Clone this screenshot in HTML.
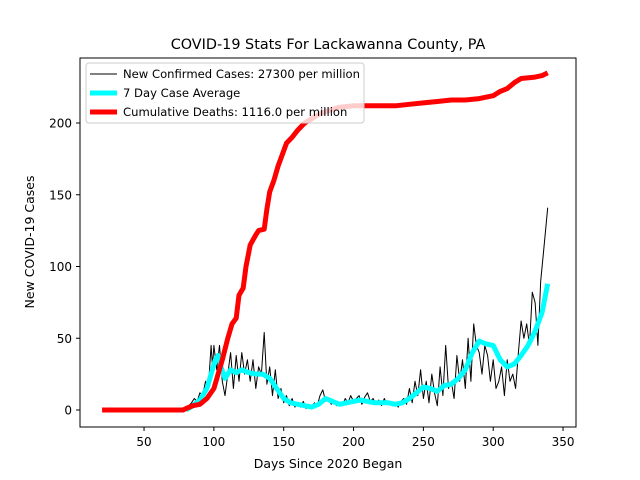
<!DOCTYPE html>
<html><head><meta charset="utf-8"><style>
html,body{margin:0;padding:0;background:#fff;}
svg{display:block;font-family:"DejaVu Sans","Liberation Sans",sans-serif;}
</style></head><body>
<svg id="chart" width="640" height="480">
<rect x="0" y="0" width="640" height="480" fill="#fff"/>
<text x="328" y="49" font-size="14.4" text-anchor="middle">COVID-19 Stats For Lackawanna County, PA</text>
<g id="plot"></g>
<rect x="80" y="58" width="496" height="369" fill="none" stroke="#000" stroke-width="1"/>
<g id="xticks"></g>
<g id="yticks"></g>
<text x="328" y="468" font-size="12.5" text-anchor="middle">Days Since 2020 Began</text>
<text x="34" y="242" font-size="12.5" text-anchor="middle" transform="rotate(-90 34 242)">New COVID-19 Cases</text>
<g>
<rect x="86" y="63" width="278" height="60" rx="3" fill="#fff" fill-opacity="0.8" stroke="#ccc"/>
<g><line x1="90" y1="74" x2="117" y2="74" stroke="#000" stroke-width="1"/><text x="123" y="78" font-size="11.6">New Confirmed Cases: 27300 per million</text></g>
<g><line x1="90" y1="93" x2="117" y2="93" stroke="#00ffff" stroke-width="5"/><text x="123" y="97" font-size="11.6">7 Day Case Average</text></g>
<g><line x1="90" y1="112" x2="117" y2="112" stroke="#ff0000" stroke-width="5"/><text x="123" y="116" font-size="11.6">Cumulative Deaths: 1116.0 per million</text></g>
</g>
</svg>
<script>
const caseDays=[20,78,80,82,84,86,88,90,92,94,96,98,99,100,102,104,106,108,110,112,114,116,118,120,122,124,126,128,130,132,134,136,138,140,142,144,146,148,150,152,154,156,158,160,162,164,166,168,170,172,174,176,178,180,182,184,186,188,190,192,194,196,198,200,202,204,206,208,210,212,214,216,218,220,222,224,226,228,230,232,234,236,238,240,242,244,246,248,250,252,254,256,258,260,262,264,266,268,270,272,274,276,278,280,282,284,286,288,290,292,294,296,298,300,302,304,306,308,310,312,314,316,318,320,322,324,326,328,330,332,334,336,339];
const caseValues=[0,0,0,3,5,8,6,12,10,20,15,45,30,45,28,45,20,10,25,40,15,38,20,40,25,35,20,35,15,30,25,54,18,30,10,28,8,15,5,10,3,8,2,5,2,6,1,4,2,5,3,10,14,6,8,4,6,3,5,3,8,5,10,6,8,10,4,9,12,6,8,4,7,3,8,4,6,3,5,2,6,8,4,15,5,20,10,28,8,20,5,25,12,3,30,10,45,15,20,8,38,20,35,15,50,20,60,45,40,25,45,38,20,35,15,20,30,10,35,20,25,15,40,62,50,60,45,82,75,45,90,110,141];
const avgDays=[80,85,90,95,98,101,103,105,108,112,116,120,125,130,135,140,145,150,155,160,165,170,175,180,185,190,195,200,205,210,215,220,225,230,235,240,245,250,255,260,265,270,275,280,285,290,295,300,305,310,315,320,325,330,335,339];
const avgValues=[0,3,7,15,25,35,38,30,22,28,26,28,26,25,25,22,15,8,5,4,3,2,4,8,6,4,5,6,7,6,5,5,5,4,5,8,12,16,15,13,17,18,22,28,40,48,46,45,35,30,32,38,45,55,68,88];
const deathDays=[20,78,80,85,90,95,100,103,106,110,113,116,118,121,123,126,130,132,136,138,140,143,146,149,152,156,160,165,170,175,180,190,200,230,240,250,260,270,280,290,300,305,310,315,320,330,335,339];
const deathValues=[0,0,1,3,4,8,15,25,35,50,60,64,80,85,100,115,122,125,126,140,152,160,170,178,186,190,195,200,203,206,208,211,212,212,213,214,215,216,216,217,219,222,224,228,231,232,233,235];
const xTicks=[50,100,150,200,250,300,350];
const yTicks=[0,50,100,150,200];
const NS="http://www.w3.org/2000/svg";
function X(d){return 74.2+1.3967*d;}
function Y(v){return 410-1.435*v;}
const plot=document.getElementById('plot');
function line(days,vals,color,w,name){
  const p=document.createElementNS(NS,'polyline');
  p.setAttribute('points',days.map((d,i)=>X(d).toFixed(1)+','+Y(vals[i]).toFixed(1)).join(' '));
  p.setAttribute('fill','none');p.setAttribute('stroke',color);p.setAttribute('stroke-width',w);
  p.setAttribute('stroke-linejoin','round');
  
  
  plot.appendChild(p);
}
line(caseDays,caseValues,'#000',1,'new-cases-line');
line(avgDays,avgValues,'#00ffff',5,'seven-day-average-line');
line(deathDays,deathValues,'#ff0000',5,'cumulative-deaths-line');
const xg=document.getElementById('xticks');
xTicks.forEach(t=>{
  const l=document.createElementNS(NS,'line');
  l.setAttribute('x1',X(t));l.setAttribute('x2',X(t));l.setAttribute('y1',427);l.setAttribute('y2',431);l.setAttribute('stroke','#000');
  
  
  xg.appendChild(l);
  const tx=document.createElementNS(NS,'text');
  tx.setAttribute('x',X(t));tx.setAttribute('y',446);tx.setAttribute('font-size','12');tx.setAttribute('text-anchor','middle');
  tx.textContent=t;
  
  
  xg.appendChild(tx);
});
const yg=document.getElementById('yticks');
yTicks.forEach(t=>{
  const l=document.createElementNS(NS,'line');
  l.setAttribute('x1',76);l.setAttribute('x2',80);l.setAttribute('y1',Y(t));l.setAttribute('y2',Y(t));l.setAttribute('stroke','#000');
  
  
  yg.appendChild(l);
  const tx=document.createElementNS(NS,'text');
  tx.setAttribute('x',72);tx.setAttribute('y',Y(t)+4.5);tx.setAttribute('font-size','12');tx.setAttribute('text-anchor','end');
  tx.textContent=t;
  
  
  yg.appendChild(tx);
});
</script>
</body></html>
